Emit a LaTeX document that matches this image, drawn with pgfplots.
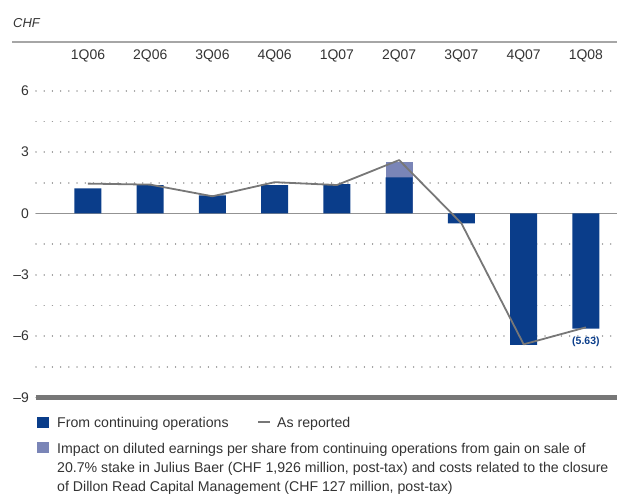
\documentclass[border=0pt]{standalone}
\usepackage{pgfplots}
\pgfplotsset{compat=1.18}
\usepackage{fontspec}
\setmainfont{Liberation Sans}
\definecolor{ubsblue}{HTML}{0A3D8A}
\definecolor{ubslight}{HTML}{7A85B7}
\definecolor{linegray}{HTML}{777777}
\definecolor{txt}{HTML}{333333}
\definecolor{gridgray}{HTML}{9A9A9A}

\begin{document}
\begin{tikzpicture}[x=1bp,y=1bp]
\clip (-36,-96.5) rectangle (581,397.5);
\begin{axis}[
  at={(0,0)}, anchor=south west,
  scale only axis, width=581bp, height=314.9bp,
  xmin=-0.835, xmax=8.5, ymin=-9, ymax=6.4,
  axis line style={draw=none},
  major tick length=0pt, minor tick length=0pt,
  xtick={0,1,2,3,4,5,6,7,8},
  xticklabels={1Q06,2Q06,3Q06,4Q06,1Q07,2Q07,3Q07,4Q07,1Q08},
  xticklabel pos=upper,
  xticklabel style={anchor=base, yshift=22.6bp},
  ytick={-9,-6,-3,0,3,6},
  yticklabels={\textendash 9,\textendash 6,\textendash 3,0,3,6},
  yticklabel style={anchor=east, inner sep=0pt, xshift=-7bp},
  minor ytick={-7.5,-4.5,-1.5,1.5,4.5},
  ymajorgrids, yminorgrids,
  major grid style={gridgray, line width=1.5bp, line cap=round, dash pattern=on 0.01bp off 8.2bp},
  minor grid style={gridgray, line width=1.5bp, line cap=round, dash pattern=on 0.01bp off 8.2bp},
  tick label style={font=\fontsize{14}{16}\selectfont, text=txt},
  clip=false,
]
\draw[color=gray!85, line width=1.3bp] (axis cs:-0.835,0) -- (axis cs:8.5,0);
\draw[color=linegray, line width=4.5bp] (axis cs:-0.835,-9) -- (axis cs:8.5,-9);
\addplot[ybar, bar width=27bp, bar shift=0pt, fill=ubslight, draw=none] coordinates {(5,2.51)};
\addplot[ybar, bar width=27bp, bar shift=0pt, fill=ubsblue, draw=none] coordinates {
 (0,1.23) (1,1.38) (2,0.89) (3,1.38) (4,1.44) (5,1.77) (6,-0.48) (7,-6.43) (8,-5.63)};
\addplot[sharp plot, linegray, line width=1.8bp, mark=none, line join=round] coordinates {
 (0,1.46) (1,1.41) (2,0.84) (3,1.53) (4,1.39) (5,2.61) (6,-0.48) (7,-6.40) (8,-5.57)};
\node[anchor=north, font=\fontsize{10.5}{12}\selectfont\bfseries, text=ubsblue, yshift=-5bp] at (axis cs:8,-5.63) {(5.63)};
\end{axis}
\draw[color=gray!70, line width=1.2bp] (-24,355.5) -- (581,355.5);
\node[anchor=base west, inner sep=0pt, text=txt, font=\fontsize{13}{15}\selectfont\itshape] at (-23,369.5) {CHF};
% legend
\fill[ubsblue] (1,-30.5) rectangle (13,-19.5);
\node[anchor=base west, inner sep=0pt, text=txt, font=\fontsize{14.2}{19}\selectfont] at (21,-30.5) {From continuing operations};
\draw[linegray, line width=1.8bp] (222,-24.5) -- (234,-24.5);
\node[anchor=base west, inner sep=0pt, text=txt, font=\fontsize{14.2}{19}\selectfont] at (241,-30.5) {As reported};
\fill[ubslight] (1,-55.5) rectangle (13,-44.5);
\node[anchor=base west, inner sep=0pt, text=txt, font=\fontsize{14.2}{19}\selectfont] at (21,-56.5) {Impact on diluted earnings per share from continuing operations from gain on sale of};
\node[anchor=base west, inner sep=0pt, text=txt, font=\fontsize{14.2}{19}\selectfont] at (21,-75.5) {20.7\% stake in Julius Baer (CHF 1,926 million, post-tax) and costs related to the closure};
\node[anchor=base west, inner sep=0pt, text=txt, font=\fontsize{14.2}{19}\selectfont] at (21,-94.5) {of Dillon Read Capital Management (CHF 127 million, post-tax)};
\end{tikzpicture}
\end{document}
